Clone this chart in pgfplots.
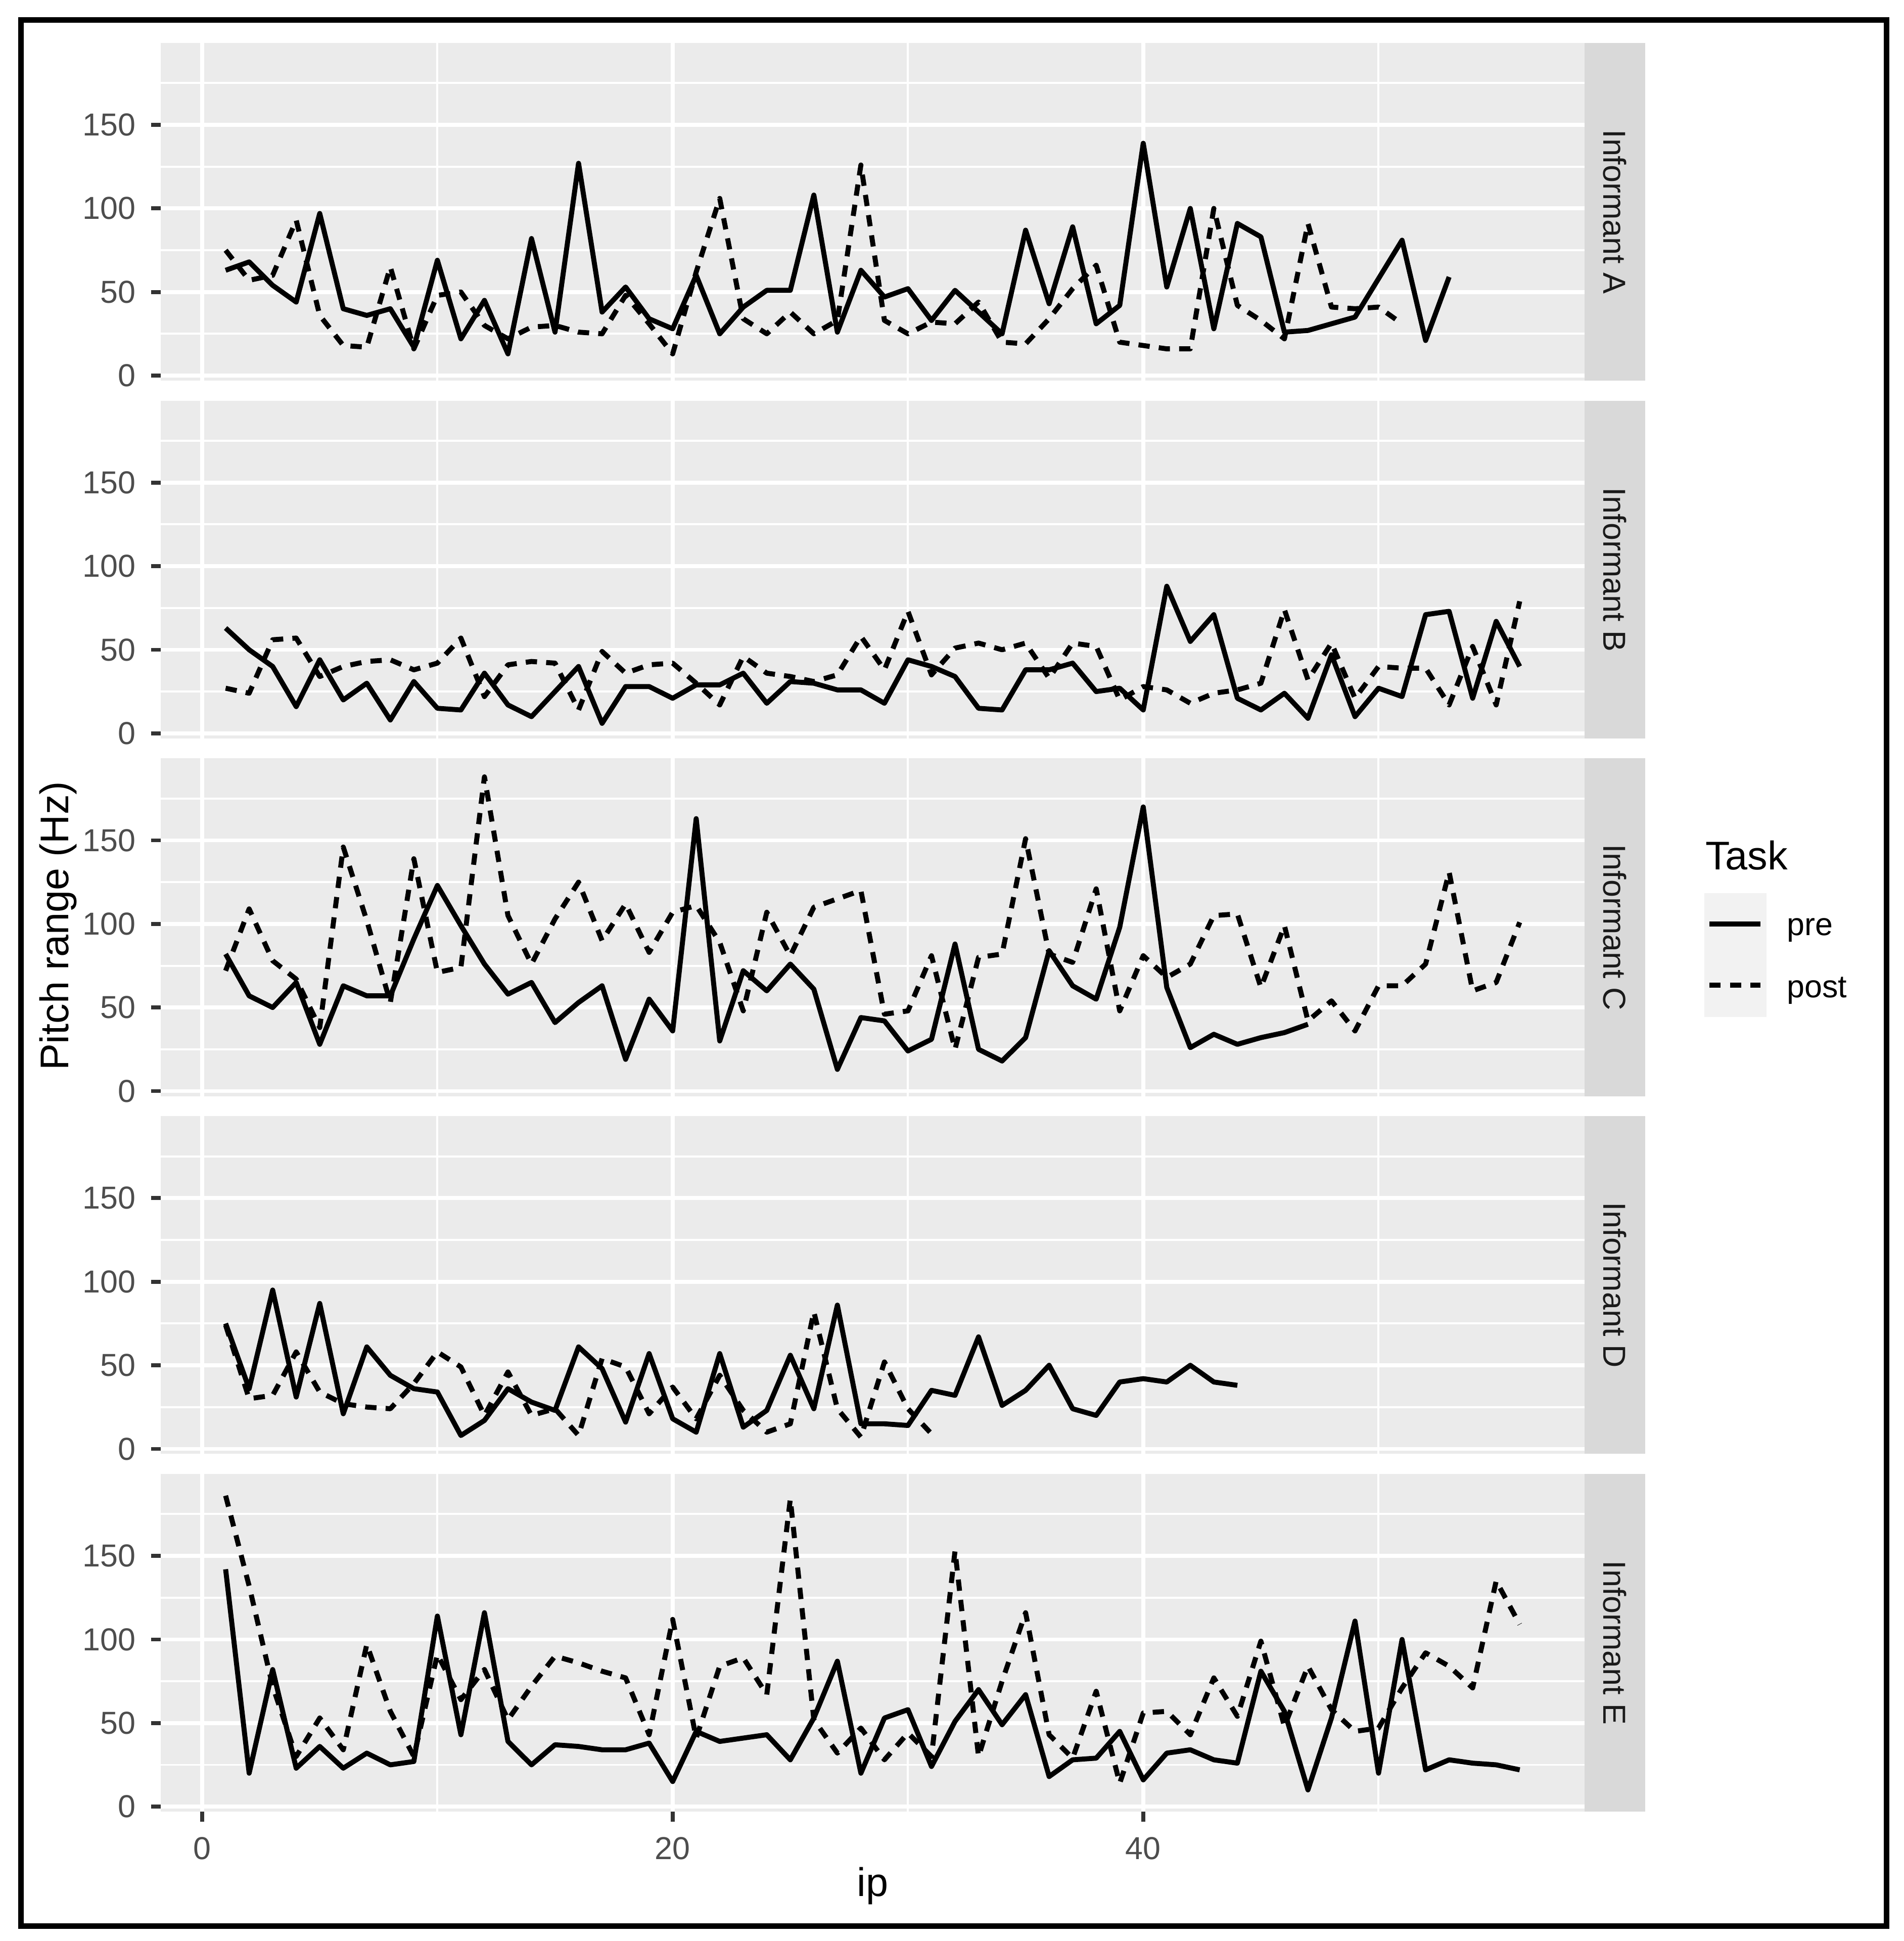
\documentclass[border=0pt]{standalone}
\usepackage{fontspec}
\setmainfont{Liberation Sans}
\usepackage{pgfplots}
\usepackage{pgfplotstable}
\pgfplotsset{compat=1.18}

\definecolor{panelbg}{HTML}{EBEBEB}
\definecolor{stripbg}{HTML}{D9D9D9}
\definecolor{keybg}{HTML}{F2F2F2}
\definecolor{gray30}{HTML}{4D4D4D}
\definecolor{gray20}{HTML}{333333}
\definecolor{gray10}{HTML}{1A1A1A}

\newcommand\tickfont{\fontsize{7.3}{8.8}\selectfont}
\newcommand\titlefont{\fontsize{9.2}{11}\selectfont}

% pitch range per informant, ip = intonation phrase index
\pgfplotstableread{
ip pre post
1 63 75
2 68 57
3 54 60
4 44 93
5 97 36
6 40 18
7 36 17
8 40 65
9 17 16
10 69 48
11 22 50
12 45 30
13 13 22
14 82 29
15 26 30
16 127 26
17 38 25
18 53 48
19 34 31
20 28 13
21 60 62
22 25 106
23 41 34
24 51 25
25 51 38
26 108 25
27 26 33
28 63 126
29 47 33
30 52 25
31 33 32
32 51 31
33 38 44
34 25 20
35 87 19
36 43 34
37 89 52
38 31 66
39 42 20
40 139 18
41 53 16
42 100 16
43 28 100
44 91 42
45 83 33
46 26 22
47 27 91
48 31 41
49 35 40
50 58 41
51 81 31
52 21 nan
53 59 nan
}\dataA

\pgfplotstableread{
ip pre post
1 63 27
2 50 24
3 40 56
4 16 57
5 44 34
6 20 40
7 30 43
8 8 44
9 31 38
10 15 42
11 14 57
12 36 22
13 17 41
14 10 43
15 25 42
16 40 14
17 6 49
18 28 36
19 28 41
20 21 42
21 29 30
22 29 17
23 36 46
24 18 36
25 31 34
26 30 31
27 26 35
28 26 58
29 18 38
30 44 73
31 40 35
32 34 51
33 15 54
34 14 50
35 38 54
36 38 33
37 42 54
38 25 52
39 27 20
40 14 28
41 88 26
42 55 18
43 71 24
44 21 26
45 14 30
46 24 74
47 9 32
48 47 54
49 10 21
50 27 40
51 22 39
52 71 39
53 73 17
54 21 52
55 67 17
56 40 79
}\dataB

\pgfplotstableread{
ip pre post
1 82 72
2 57 109
3 50 78
4 65 67
5 28 38
6 63 146
7 57 102
8 57 53
9 91 139
10 123 71
11 99 74
12 76 188
13 58 105
14 65 76
15 41 103
16 53 125
17 63 90
18 19 112
19 55 83
20 36 107
21 163 111
22 30 89
23 72 48
24 60 107
25 76 81
26 61 110
27 13 115
28 44 120
29 42 46
30 24 48
31 31 81
32 88 25
33 25 80
34 18 82
35 32 151
36 84 82
37 63 77
38 55 121
39 98 48
40 170 81
41 62 68
42 26 76
43 34 105
44 28 106
45 32 62
46 35 99
47 40 42
48 nan 54
49 nan 36
50 nan 63
51 nan 63
52 nan 76
53 nan 131
54 nan 60
55 nan 65
56 nan 101
}\dataC

\pgfplotstableread{
ip pre post
1 75 74
2 36 30
3 95 32
4 31 58
5 87 34
6 21 27
7 61 25
8 44 24
9 36 39
10 34 58
11 8 49
12 17 20
13 36 46
14 28 20
15 23 24
16 61 8
17 48 54
18 16 49
19 57 21
20 18 37
21 10 18
22 57 44
23 13 23
24 23 10
25 56 15
26 24 82
27 86 24
28 15 7
29 15 52
30 14 24
31 35 9
32 32 nan
33 67 nan
34 26 nan
35 35 nan
36 50 nan
37 24 nan
38 20 nan
39 40 nan
40 42 nan
41 40 nan
42 50 nan
43 40 nan
44 38 nan
}\dataD

\pgfplotstableread{
ip pre post
1 142 186
2 20 132
3 82 72
4 23 30
5 36 53
6 23 34
7 32 97
8 25 57
9 27 30
10 114 91
11 43 64
12 116 82
13 39 52
14 25 72
15 37 90
16 36 86
17 34 81
18 34 77
19 38 43
20 15 112
21 45 41
22 39 84
23 41 89
24 43 67
25 28 184
26 53 52
27 87 32
28 20 47
29 53 28
30 58 44
31 24 30
32 51 153
33 70 30
34 49 75
35 67 116
36 18 43
37 28 29
38 29 69
39 45 14
40 16 56
41 32 57
42 34 43
43 28 77
44 26 54
45 81 99
46 57 48
47 10 84
48 53 58
49 111 45
50 20 47
51 100 71
52 22 92
53 28 84
54 26 71
55 25 135
56 22 109
}\dataE

\pgfplotsset{
  facet/.style={
    width=11.5cm, height=2.728cm, scale only axis,
    anchor=south west,
    xmin=-1.75, xmax=58.75, ymin=-3, ymax=199,
    axis background/.style={fill=panelbg},
    axis line style={draw=none},
    grid=both,
    major grid style={white, line width=0.9pt},
    minor grid style={white, line width=0.45pt},
    xtick={0,20,40}, minor xtick={10,30,50},
    ytick={0,50,100,150}, minor ytick={25,75,125,175},
    tick pos=left, tick align=outside,
    major tick length=2.3pt, minor tick length=0pt,
    tick style={gray20, line width=0.9pt},
    ticklabel style={font=\tickfont, text=gray30},
    /pgf/number format/assume math mode=true,
  },
  inner/.style={xticklabels={}, xtick style={draw=none}},
  pre/.style={black, line width=1.15pt, line join=round, no marks},
  post/.style={black, line width=1.15pt, line join=round, no marks,
    dash pattern=on 2.6pt off 2.1pt},
}

\begin{document}
\begin{tikzpicture}
\path[use as bounding box, fill=white] (0,0) rectangle (15.38,15.68);

\begin{axis}[facet, inner, at={(1.30cm,12.605cm)}]
\addplot[pre] table[x=ip, y=pre] {\dataA};
\addplot[post] table[x=ip, y=post] {\dataA};
\end{axis}

\begin{axis}[facet, inner, at={(1.30cm,9.715cm)}]
\addplot[pre] table[x=ip, y=pre] {\dataB};
\addplot[post] table[x=ip, y=post] {\dataB};
\end{axis}

\begin{axis}[facet, inner, at={(1.30cm,6.825cm)}]
\addplot[pre] table[x=ip, y=pre] {\dataC};
\addplot[post] table[x=ip, y=post] {\dataC};
\end{axis}

\begin{axis}[facet, inner, at={(1.30cm,3.935cm)}]
\addplot[pre] table[x=ip, y=pre] {\dataD};
\addplot[post] table[x=ip, y=post] {\dataD};
\end{axis}

\begin{axis}[facet, at={(1.30cm,1.045cm)}]
\addplot[pre] table[x=ip, y=pre] {\dataE};
\addplot[post] table[x=ip, y=post] {\dataE};
\end{axis}

% facet strips
\foreach \b/\lab in {12.605/A, 9.715/B, 6.825/C, 3.935/D, 1.045/E} {
  \fill[stripbg] (12.80,\b) rectangle (13.29,\b+2.728);
  \node[rotate=-90, font=\tickfont, text=gray10] at (13.045,\b+1.364) {Informant \lab};
}

% axis titles
\node[rotate=90, font=\titlefont] at (0.47,8.20) {Pitch range (Hz)};
\node[anchor=base, font=\titlefont] at (7.05,0.36) {ip};

% legend
\node[anchor=base west, font=\titlefont, inner sep=0pt] at (13.77,8.655) {Task};
\fill[keybg] (13.77,7.464) rectangle (14.27,8.465);
\draw[black, line width=1.15pt] (13.81,8.215) -- (14.22,8.215);
\draw[black, line width=1.15pt, dash pattern=on 2.6pt off 2.1pt] (13.81,7.72) -- (14.22,7.72);
\node[anchor=base west, font=\tickfont, inner sep=0pt] at (14.43,8.125) {pre};
\node[anchor=base west, font=\tickfont, inner sep=0pt] at (14.43,7.621) {post};

% outer frame
\draw[black, line width=1.3pt] (0.17,0.12) rectangle (15.24,15.52);
\end{tikzpicture}
\end{document}
